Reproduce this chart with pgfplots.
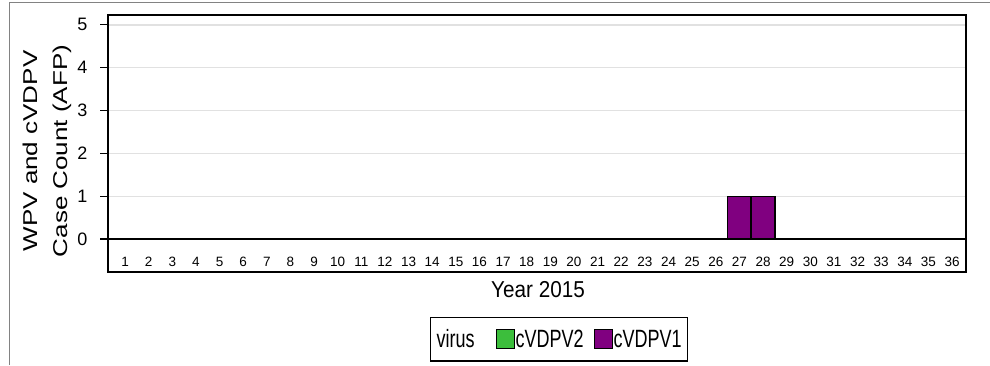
\documentclass[border=0pt]{standalone}
\usepackage{pgfplots}
\pgfplotsset{compat=1.18}
\usepackage{fontspec}
\setmainfont{Liberation Sans}

\definecolor{cvdpvone}{RGB}{128,0,128}
\definecolor{cvdpvtwo}{RGB}{60,190,60}
\definecolor{gridgray}{RGB}{225,225,225}
\definecolor{framegray}{RGB}{130,130,130}

\newcommand{\legtext}[1]{\scalebox{0.72}[1]{#1}}

\begin{document}
\begin{tikzpicture}
\useasboundingbox (0pt,0pt) rectangle (990pt,365pt);
% outer frame (left and top edges)
\draw[framegray, line width=1.6pt] (9.5pt,0pt) -- (9.5pt,362.5pt) -- (990pt,362.5pt);

\begin{axis}[
  at={(108pt,93pt)}, anchor=south west,
  scale only axis, width=858pt, height=257pt,
  xmin=0.28, xmax=36.59,
  ymin=-0.77, ymax=5.23,
  /pgf/number format/assume math mode=true,
  axis line style={black, line width=1.4pt},
  xtick={1,...,36},
  xtick style={draw=none},
  xticklabel style={anchor=center, yshift=18pt, font=\fontsize{13.5}{14}\selectfont},
  ytick={0,1,2,3,4,5},
  ytick pos=left,
  tick align=outside,
  major tick length=8pt,
  ytick style={black, line width=1.2pt},
  yticklabel style={font=\fontsize{18}{19}\selectfont, xshift=-9pt},
  ymajorgrids,
  major grid style={gridgray, line width=1.3pt},
  xlabel={\scalebox{0.9}[1]{Year 2015}},
  xlabel style={font=\fontsize{23}{24}\selectfont, at={(rel axis cs:0.5012,0)}, anchor=north, yshift=-6pt},
  legend columns=3,
  legend style={at={(rel axis cs:0.3753,-0.1745)}, anchor=north west,
    draw=black, line width=1.3pt, inner xsep=5pt, inner ysep=11pt,
    font=\fontsize{25}{26}\selectfont,
    nodes={inner sep=1pt},
    column sep=0pt,
    /tikz/every even column/.append style={column sep=9pt}},
  legend cell align=left,
]
% baseline at zero
\draw[black, line width=1.4pt] (axis cs:0.28,0) -- (axis cs:36.59,0);

\addlegendimage{empty legend}
\addlegendentry{\legtext{virus}\kern11pt}
\addlegendimage{legend image code/.code={\draw[fill=cvdpvtwo, draw=black, line width=1pt] (0pt,-9.5pt) rectangle (18pt,9.5pt);}}
\addlegendentry{\legtext{cVDPV2}}

\addplot[ybar, bar width=24pt, fill=cvdpvone, draw=black, line width=1.2pt,
  legend image code/.code={\draw[fill=cvdpvone, draw=black, line width=1pt] (0pt,-9.5pt) rectangle (18pt,9.5pt);}]
  coordinates {(27,1) (28,1)};
\addlegendentry{\legtext{cVDPV1}}
\end{axis}

\node[rotate=90] at (46pt,214pt) {\scalebox{1.3}[1]{\fontsize{20}{30}\selectfont
  \begin{tabular}{@{}c@{}}WPV and cVDPV\\Case Count (AFP)\end{tabular}}};
\end{tikzpicture}
\end{document}
